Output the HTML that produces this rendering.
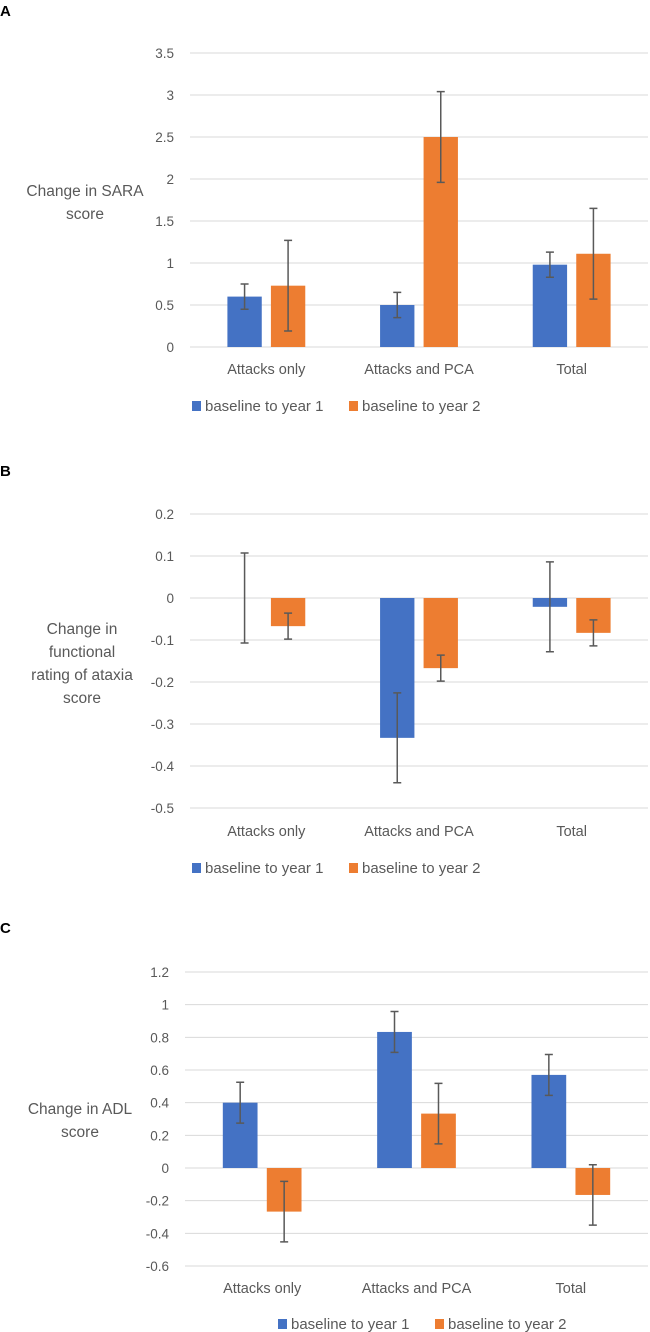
<!DOCTYPE html>
<html><head><meta charset="utf-8">
<style>
html,body{margin:0;padding:0;background:#fff;}
svg{display:block;font-family:"Liberation Sans",Arial,sans-serif;}
</style></head>
<body>
<svg id="fig" width="650" height="1332" viewBox="0 0 650 1332" xmlns="http://www.w3.org/2000/svg"></svg>
<script>
const categories = ["Attacks only", "Attacks and PCA", "Total"];
const seriesNames = ["baseline to year 1", "baseline to year 2"];
const seriesColors = ["#4472C4", "#ED7D31"];

// Panel A: SARA
const aYear1 = [0.6, 0.5, 0.98];
const aYear1Err = [0.15, 0.15, 0.15];
const aYear2 = [0.73, 2.5, 1.11];
const aYear2Err = [0.54, 0.54, 0.54];
const aTicks = [0, 0.5, 1, 1.5, 2, 2.5, 3, 3.5];
const aTickLabels = ["0", "0.5", "1", "1.5", "2", "2.5", "3", "3.5"];

// Panel B: functional rating of ataxia
const bYear1 = [0, -0.333, -0.021];
const bYear1Err = [0.107, 0.107, 0.107];
const bYear2 = [-0.067, -0.167, -0.083];
const bYear2Err = [0.031, 0.031, 0.031];
const bTicks = [-0.5, -0.4, -0.3, -0.2, -0.1, 0, 0.1, 0.2];
const bTickLabels = ["-0.5", "-0.4", "-0.3", "-0.2", "-0.1", "0", "0.1", "0.2"];

// Panel C: ADL
const cYear1 = [0.4, 0.833, 0.57];
const cYear1Err = [0.125, 0.125, 0.125];
const cYear2 = [-0.267, 0.333, -0.165];
const cYear2Err = [0.185, 0.185, 0.185];
const cTicks = [-0.6, -0.4, -0.2, 0, 0.2, 0.4, 0.6, 0.8, 1, 1.2];
const cTickLabels = ["-0.6", "-0.4", "-0.2", "0", "0.2", "0.4", "0.6", "0.8", "1", "1.2"];

const NS = "http://www.w3.org/2000/svg";
const svg = document.getElementById("fig");
function mk(tag, attrs, parent) {
  const e = document.createElementNS(NS, tag);
  for (const k in attrs) e.setAttribute(k, attrs[k]);
  (parent || svg).appendChild(e);
  return e;
}

function panel(o) {
  const g = mk("g", {});
  
  
  const lt = mk("text", {x: 0, y: o.letterY, "font-size": 15, "font-weight": "bold", fill: "#000"}, g);
  lt.textContent = o.letter;
  
  
  const ymin = o.ticks[0], ymax = o.ticks[o.ticks.length - 1];
  const yScale = v => o.yBot - (v - ymin) / (ymax - ymin) * (o.yBot - o.yTop);
  const catW = (o.x1 - o.x0) / categories.length;
  const xCenter = i => o.x0 + catW * (i + 0.5);
  o.ticks.forEach((t, i) => {
    const y = yScale(t);
    const gl = mk("line", {x1: o.x0, x2: o.x1, y1: y, y2: y, stroke: "#D9D9D9", "stroke-width": 1}, g);
    
    
    const tl = mk("text", {x: o.tickX, y: y + 5, "font-size": 13.5, fill: "#595959", "text-anchor": "end"}, g);
    tl.textContent = o.tickLabels[i];
    
    
  });
  const yt = mk("text", {x: o.titleX, y: o.titleY, "font-size": 15.5, fill: "#595959", "text-anchor": "middle"}, g);
  
  
  o.title.forEach((line, i) => {
    const ts = mk("tspan", {x: o.titleX, dy: i === 0 ? 0 : 23}, yt);
    ts.textContent = line;
  });
  const barW = catW * 0.225, gap = catW * 0.06;
  const zero = yScale(0);
  const series = [[o.s1, o.e1], [o.s2, o.e2]];
  series.forEach((s, si) => {
    s[0].forEach((v, i) => {
      const bx = si === 0 ? xCenter(i) - gap / 2 - barW : xCenter(i) + gap / 2;
      const yv = yScale(v);
      const r = mk("rect", {x: bx, y: Math.min(yv, zero), width: barW, height: Math.max(Math.abs(zero - yv), 0.01), fill: seriesColors[si]}, g);
      
      
      const cx = bx + barW / 2;
      const yHi = yScale(v + s[1][i]), yLo = yScale(v - s[1][i]);
      const eb = mk("path", {d: `M${cx},${yHi}V${yLo}M${cx - 4},${yHi}H${cx + 4}M${cx - 4},${yLo}H${cx + 4}`, stroke: "#595959", "stroke-width": 1.5, fill: "none"}, g);
      
      
    });
  });
  categories.forEach((c, i) => {
    const t = mk("text", {x: xCenter(i), y: o.catY, "font-size": 14.5, fill: "#595959", "text-anchor": "middle"}, g);
    t.textContent = c;
    
    
  });
  seriesNames.forEach((n, si) => {
    const lx = o.legX[si];
    const sq = mk("rect", {x: lx, y: o.legY - 10, width: 9, height: 10, fill: seriesColors[si]}, g);
    
    
    const t = mk("text", {x: lx + 13, y: o.legY, "font-size": 15, fill: "#595959"}, g);
    t.textContent = n;
    
    
  });
}

panel({letter: "A", letterY: 16, ticks: aTicks, tickLabels: aTickLabels, yTop: 53, yBot: 347,
  x0: 190, x1: 648, tickX: 174, title: ["Change in SARA", "score"], titleX: 85, titleY: 196,
  s1: aYear1, e1: aYear1Err, s2: aYear2, e2: aYear2Err, catY: 374, legY: 411, legX: [192, 349]});
panel({letter: "B", letterY: 476, ticks: bTicks, tickLabels: bTickLabels, yTop: 514, yBot: 808,
  x0: 190, x1: 648, tickX: 174, title: ["Change in", "functional", "rating of ataxia", "score"], titleX: 82, titleY: 634,
  s1: bYear1, e1: bYear1Err, s2: bYear2, e2: bYear2Err, catY: 836, legY: 873, legX: [192, 349]});
panel({letter: "C", letterY: 933, ticks: cTicks, tickLabels: cTickLabels, yTop: 972, yBot: 1266,
  x0: 185, x1: 648, tickX: 169, title: ["Change in ADL", "score"], titleX: 80, titleY: 1114,
  s1: cYear1, e1: cYear1Err, s2: cYear2, e2: cYear2Err, catY: 1293, legY: 1329, legX: [278, 435]});
</script>
</body></html>
